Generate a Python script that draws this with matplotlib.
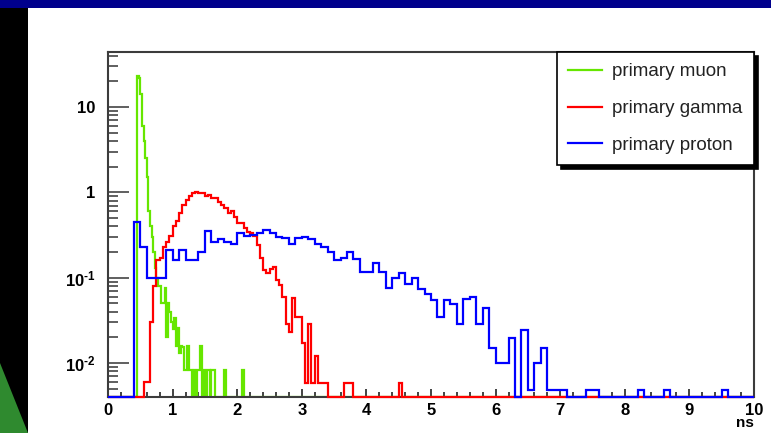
import numpy as np
import matplotlib
matplotlib.use('Agg')
import matplotlib.pyplot as plt
from matplotlib.patches import Rectangle, Polygon
from matplotlib.lines import Line2D
from matplotlib.ticker import LogLocator, MultipleLocator, NullFormatter

plt.rcParams['font.family'] = ['Liberation Sans', 'DejaVu Sans']
plt.rcParams['font.weight'] = 'bold'
plt.rcParams['mathtext.fontset'] = 'custom'
plt.rcParams['mathtext.rm'] = 'Liberation Sans:bold'
plt.rcParams['mathtext.it'] = 'Liberation Sans:bold'
plt.rcParams['mathtext.bf'] = 'Liberation Sans:bold'

# bin contents, 0 = empty bin
MUON_START, MUON_WIDTH = 0.45, 0.025
MUON = [23, 22, 14, 6, 4, 2.5, 1.5, 0.6, 0.4, 0.3,
        0.2, 0.13, 0.1, 0.08, 0.08, 0.05, 0.05, 0.075, 0.02, 0.05,
        0.04, 0.03, 0.025, 0.034, 0.016, 0.026, 0.013, 0.016, 0.0155, 0.0083,
        0.0083, 0.016, 0.0083, 0.0083, 0, 0.0083, 0, 0.0083, 0.0083, 0.016,
        0, 0.0083, 0, 0.0083, 0.0083, 0, 0.0083, 0.0083, 0, 0,
        0, 0, 0, 0, 0.0083, 0, 0, 0, 0, 0,
        0, 0, 0, 0, 0, 0.0083]

GAMMA_START, GAMMA_WIDTH = 0.50, 0.05
GAMMA = [0, 0.006, 0.006, 0.03, 0.08, 0.16, 0.17, 0.23, 0.26, 0.31,
         0.40, 0.46, 0.57, 0.71, 0.82, 0.91, 0.98, 1.02, 0.98, 0.98,
         0.91, 0.935, 0.86, 0.86, 0.78, 0.71, 0.65, 0.57, 0.60, 0.52,
         0.44, 0.44, 0.38, 0.34, 0.33, 0.31, 0.24, 0.17, 0.123, 0.112,
         0.125, 0.133, 0.094, 0.082, 0.06, 0.029, 0.023, 0.058, 0.035, 0.035,
         0.017, 0.0058, 0.029, 0.0058, 0.012, 0.0058, 0.0058, 0.0058, 0, 0,
         0, 0, 0, 0.0058, 0.0058, 0.0058, 0, 0, 0, 0,
         0, 0, 0, 0, 0, 0, 0, 0, 0, 0,
         0.0058]

PROTON_START, PROTON_WIDTH = 0.40, 0.1
PROTON = [0.45, 0.23, 0.10, 0.10, 0.10, 0.21, 0.16, 0.21, 0.16, 0.16,
          0.20, 0.35, 0.265, 0.28, 0.265, 0.25, 0.33, 0.31, 0.32, 0.33,
          0.36, 0.33, 0.30, 0.29, 0.25, 0.29, 0.30, 0.28, 0.25, 0.23,
          0.20, 0.16, 0.17, 0.20, 0.165, 0.118, 0.118, 0.15, 0.118, 0.075,
          0.10, 0.113, 0.085, 0.10, 0.074, 0.064, 0.055, 0.035, 0.055, 0.049,
          0.029, 0.056, 0.059, 0.029, 0.044, 0.015, 0.01, 0.01, 0.0195, 0,
          0.0245, 0.0048, 0.01, 0.015, 0.0048, 0.0048, 0.0048, 0, 0, 0,
          0.0048, 0.0048, 0, 0, 0, 0, 0, 0, 0.0048, 0,
          0, 0, 0.0048, 0, 0, 0, 0, 0, 0, 0,
          0, 0.0048]

LABELS = ['primary muon', 'primary gamma', 'primary proton']
COLORS = ['#66e600', '#ff0000', '#0000ff']

XMIN, XMAX = 0, 10
YMIN, YMAX = 0.004, 44


def full_hist(start, width, vals):
    # spread over the whole 0-10 ns range, empty bins sit on the floor
    nbins = int(round((XMAX - XMIN) / width))
    out = np.zeros(nbins)
    i0 = int(round((start - XMIN) / width))
    out[i0:i0 + len(vals)] = vals
    edges = XMIN + width * np.arange(nbins + 1)
    return edges, np.maximum(out, YMIN)


fig = plt.figure(figsize=(7.71, 4.33), dpi=100)
fig.patch.set_facecolor('white')

# slide decoration
fig.add_artist(Rectangle((0, 0), 28/771, 1, transform=fig.transFigure,
                         facecolor='black', edgecolor='none'))
fig.add_artist(Polygon([(0, 0), (0, 70/433), (28/771, 0)], closed=True,
                       transform=fig.transFigure, facecolor='#2f8a2f', edgecolor='none'))
fig.add_artist(Rectangle((0, 1 - 8/433), 1, 8/433, transform=fig.transFigure,
                         facecolor='#00008c', edgecolor='none'))

ax = fig.add_axes([108/771, 1 - 397/433, (754 - 108)/771, (397 - 52)/433])
ax.set_yscale('log')

e, v = full_hist(MUON_START, MUON_WIDTH, MUON)
ax.stairs(v, e, baseline=None, color=COLORS[0], lw=1.6, zorder=2)
e, v = full_hist(GAMMA_START, GAMMA_WIDTH, GAMMA)
ax.stairs(v, e, baseline=None, color=COLORS[1], lw=1.6, zorder=3, clip_on=False)
e, v = full_hist(PROTON_START, PROTON_WIDTH, PROTON)
ax.stairs(v, e, baseline=None, color=COLORS[2], lw=1.6, zorder=4, clip_on=False)

ax.set_xlim(XMIN, XMAX)
ax.set_ylim(YMIN, YMAX)

for s in ax.spines.values():
    s.set_color('#3c3c3c')
    s.set_linewidth(1.5)
    s.set_zorder(2.5)

ax.xaxis.set_major_locator(MultipleLocator(1))
ax.xaxis.set_minor_locator(MultipleLocator(0.2))
ax.set_xticks(range(11), [str(i) for i in range(11)])
ax.set_yticks([0.01, 0.1, 1, 10],
              [r'$10^{\text{-2}}$', r'$10^{\text{-1}}$', '1', '10'])
ax.yaxis.set_minor_locator(LogLocator(base=10, subs=np.arange(2, 10)))
ax.yaxis.set_minor_formatter(NullFormatter())

ax.tick_params(axis='x', which='major', direction='in', length=6, width=1.2,
               color='#222222', labelsize=12, pad=4)
ax.tick_params(axis='x', which='minor', direction='in', length=3.5, width=1.2,
               color='#222222')
ax.tick_params(axis='y', which='major', direction='in', length=15, width=1.2,
               color='#444444', labelsize=12, pad=9)
ax.tick_params(axis='y', which='minor', direction='in', length=7.5, width=1.2,
               color='#444444')

ax.set_xlabel('ns', loc='right', fontsize=11, fontweight='bold', labelpad=-1)

handles = [Line2D([], [], color=c, lw=1.6) for c in COLORS]
leg = ax.legend(handles, LABELS, loc='upper right', bbox_to_anchor=(1, 1),
                borderaxespad=0, fancybox=False, frameon=True,
                prop={'weight': 'normal', 'size': 13.5},
                handlelength=1.8, handletextpad=0.55, borderpad=0.6,
                labelspacing=1.05,
                shadow={'color': 'black', 'alpha': 1, 'ox': 3, 'oy': -3})
for t in leg.get_texts():
    t.set_color('#222222')
leg.get_frame().set_edgecolor('black')
leg.get_frame().set_linewidth(1.2)
leg.set_zorder(5)

fig.savefig('out.png', dpi=100, facecolor='white')
